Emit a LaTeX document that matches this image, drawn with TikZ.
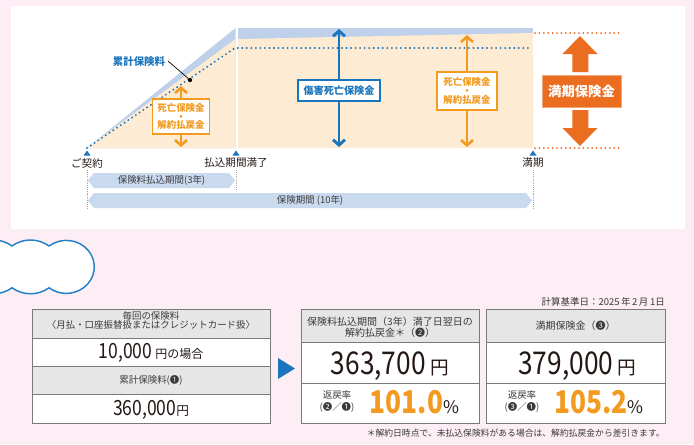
\documentclass[tikz,border=0pt]{standalone}
\usepackage{fontspec}
\setmainfont{Noto Sans CJK JP}
\usetikzlibrary{arrows.meta}
\definecolor{bgpink}{HTML}{FDEEF5}
\definecolor{bandblue}{HTML}{BED0EA}
\definecolor{beige}{HTML}{FDEBD3}
\definecolor{dblue}{HTML}{1B75BC}
\definecolor{cloudblue}{HTML}{2580C8}
\definecolor{orng}{HTML}{F39A20}
\definecolor{dorng}{HTML}{EB6D1F}
\definecolor{perblue}{HTML}{C9D9EE}
\definecolor{hdrgray}{HTML}{E6E6E6}
\definecolor{bordergray}{HTML}{7A7A7A}
\definecolor{txt}{HTML}{231815}
\definecolor{gtxt}{HTML}{3A3A3A}
\newcommand{\tallnum}[1]{\scalebox{0.94}[1.12]{#1}}
\tikzset{
  bdots/.style={dblue, line width=1.6pt, line cap=round, dash pattern=on 0pt off 3.4pt},
  odots/.style={dorng, line width=1.5pt, line cap=round, dash pattern=on 0pt off 3.3pt},
  gdots/.style={gray!70, line width=0.6pt, dash pattern=on 0.8pt off 0.8pt},
  axlbl/.style={inner sep=0, text=txt, font=\fontsize{7.9pt}{8pt}\selectfont},
  pertext/.style={inner sep=0, text=gtxt, font=\fontsize{7.1pt}{8pt}\selectfont},
  barr/.style={dblue, line width=2.2pt, {Straight Barb[length=4pt,width=9pt]}-{Straight Barb[length=4pt,width=9pt]}},
  oarr/.style={orng, line width=1.9pt, {Straight Barb[length=4pt,width=9pt]}-{Straight Barb[length=4pt,width=9pt]}},
  bbox/.style={draw=dblue, line width=0.8pt, fill=white, text=dblue, inner sep=0, font=\fontsize{7.6pt}{8pt}\selectfont\bfseries, minimum width=61.5pt, minimum height=15.75pt},
  obox/.style={draw=orng, line width=0.9pt, fill=white, text=orng, inner sep=0, align=center, font=\fontsize{7.1pt}{6.6pt}\selectfont\bfseries},
  cell/.style={draw=bordergray, line width=0.7pt, anchor=north west, inner sep=0},
  small/.style={inner sep=0, text=gtxt, font=\fontsize{7.1pt}{7pt}\selectfont, align=center},
}
\begin{document}
\begin{tikzpicture}[x=0.75pt,y=-0.75pt]
\useasboundingbox (0,0) rectangle (694,444);
\fill[bgpink] (0,0) rectangle (694,444);
\fill[white] (11,6) rectangle (685,229);

% ---- chart areas
\fill[bandblue] (87,148) -- (235.5,28) -- (235.5,148) -- cycle;
\fill[beige] (87,148) -- (235.5,39) -- (235.5,148) -- cycle;
\fill[bandblue] (238,28) rectangle (533,148);
\fill[beige] (238,39) -- (533,33) -- (533,148) -- (238,148) -- cycle;

% dotted premium line
\coordinate (d0) at (87,148);
\coordinate (d1) at (235,48);
\coordinate (d2) at (531,48);
\draw[bdots] (d0) -- (d1) -- (d2);

% maturity dotted lines
\coordinate (m1a) at (535,33); \coordinate (m1b) at (622,33);
\coordinate (m2a) at (535,148); \coordinate (m2b) at (622,148);
\draw[odots] (m1a) -- (m1b);
\draw[odots] (m2a) -- (m2b);

% 累計保険料 label + leader
\node[inner sep=0, text=dblue, font=\fontsize{7.8pt}{8pt}\selectfont\bfseries] (rk) at (139,62) {累計保険料};
\node[circle, fill=black, inner sep=0, minimum size=3.2pt] (dot) at (190,80) {};
\coordinate (rk1) at (168,61);
\draw[black, line width=0.5pt] (rk1) -- (dot);

% left orange arrow + box
\coordinate (la1) at (181,86); \coordinate (la2) at (181,147);
\draw[oarr] (la1) -- (la2);
\node[obox, minimum width=42.75pt, minimum height=26.25pt] (lb) at (181,116.5) {死亡保険金\\・\\解約払戻金};

% blue arrow + box
\coordinate (ba1) at (339,29); \coordinate (ba2) at (339,147);
\draw[barr] (ba1) -- (ba2);
\node[bbox] (bb) at (339,90.5) {傷害死亡保険金};

% right orange arrow + box
\coordinate (ra1) at (467,35); \coordinate (ra2) at (467,147);
\draw[oarr] (ra1) -- (ra2);
\node[obox, minimum width=45pt, minimum height=28.5pt] (rb) at (467,91) {死亡保険金\\・\\解約払戻金};

% maturity big arrows + box
\fill[dorng] (580,36) -- (597.5,54) -- (588.3,54) -- (588.3,72) -- (572.3,72) -- (572.3,54) -- (562.5,54) -- cycle;
\fill[dorng] (580,146) -- (597.5,128) -- (588.3,128) -- (588.3,110) -- (572.3,110) -- (572.3,128) -- (562.5,128) -- cycle;
\node[fill=dorng, draw=dorng!60, line width=0.4pt, text=white, inner sep=0, minimum width=59.25pt, minimum height=24pt, font=\fontsize{10pt}{10pt}\selectfont\bfseries] (mb) at (581.5,91) {満期保険金};

% axis markers
\fill[dblue] (83.5,155.5) -- (90.5,155.5) -- (87,150.5) -- cycle;
\fill[dblue] (232.5,155.5) -- (239.5,155.5) -- (236,150.5) -- cycle;
\fill[dblue] (529.5,155.5) -- (536.5,155.5) -- (533,150.5) -- cycle;
\node[axlbl] (t0) at (87,163) {ご契約};
\node[axlbl] (t1) at (236,163) {払込期間満了};
\node[axlbl] (t2) at (533,163) {満期};
\coordinate (g0a) at (87,170); \coordinate (g0b) at (87,209);
\coordinate (g1a) at (236,170); \coordinate (g1b) at (236,190);
\coordinate (g2a) at (533,170); \coordinate (g2b) at (533,209);
\draw[gdots] (g0a) -- (g0b);
\draw[gdots] (g1a) -- (g1b);
\draw[gdots] (g2a) -- (g2b);

% period bands
\fill[perblue] (88,180.5) -- (94,173) -- (229,173) -- (235,180.5) -- (229,188) -- (94,188) -- cycle;
\node[pertext] (p1) at (161.5,180.5) {保険料払込期間(3年)};
\fill[perblue] (88,200.5) -- (94,193) -- (526,193) -- (532,200.5) -- (526,208) -- (94,208) -- cycle;
\node[pertext] (p2) at (310,200.5) {保険期間 (10年)};

% ---- cloud
\begin{scope}
\clip (0,0) rectangle (694,444);
\draw[cloudblue, line width=1.1pt, fill=white] (-25,246)
  arc[start angle=-126, end angle=-54, radius=31.5]
  arc[start angle=-126, end angle=-54, radius=31.5]
  arc[start angle=-128, end angle=128, x radius=28, y radius=26.5]
  arc[start angle=54, end angle=126, radius=31.5]
  arc[start angle=54, end angle=126, radius=31.5]
  -- cycle;
\end{scope}

% ---- left table
\node[cell, fill=hdrgray, minimum width=178.5pt, minimum height=21.75pt] (c1) at (32,309) {};
\node[cell, fill=white, minimum width=178.5pt, minimum height=21pt] (c2) at (32,338) {};
\node[cell, fill=hdrgray, minimum width=178.5pt, minimum height=21pt] (c3) at (32,366) {};
\node[cell, fill=white, minimum width=178.5pt, minimum height=21.75pt] (c4) at (32,394) {};
\node[small] (c1t) at (151,320.5) {毎回の保険料\\〈月払・口座振替扱またはクレジットカード扱〉};
\node[inner sep=0, anchor=base, text=txt] (c2t) at (151,358) {\fontsize{14pt}{14pt}\selectfont\tallnum{10,000}\,\fontsize{9pt}{9pt}\selectfont 円の場合};
\node[small] (c3t) at (151,380) {累計保険料(❶)};
\node[inner sep=0, anchor=base, text=txt] (c4t) at (151,415) {\fontsize{14pt}{14pt}\selectfont\tallnum{360,000}\fontsize{9.5pt}{9.5pt}\selectfont 円};

% arrow triangle
\fill[dblue] (278,358) -- (295,368.5) -- (278,379) -- cycle;

% ---- right boxes
\node[inner sep=0, anchor=east, text=gtxt, font=\fontsize{7.1pt}{7pt}\selectfont] (calc) at (665,302) {計算基準日：2025\,年\,2\,月\,1日};

\node[cell, fill=hdrgray, minimum width=133.5pt, minimum height=24.75pt] (a1) at (301,309) {};
\node[cell, fill=white, minimum width=133.5pt, minimum height=30.75pt] (a2) at (301,342) {};
\node[cell, fill=white, minimum width=133.5pt, minimum height=30pt] (a3) at (301,383) {};
\node[inner sep=0, text=gtxt, align=center, font=\fontsize{7.5pt}{8.25pt}\selectfont] (a1t) at (390,327.5) {保険料払込期間（3年）満了日翌日の\\解約払戻金＊（❷）};
\node[inner sep=0, anchor=base, text=txt] (a2t) at (390,374) {\fontsize{21pt}{21pt}\selectfont\tallnum{363,700}\,\fontsize{14pt}{14pt}\selectfont 円};
\node[small] (a3l) at (337,401.5) {返戻率\\[2.5pt](❷／❶)};
\node[inner sep=0, anchor=base] (a3p) at (414.5,413) {\fontsize{21pt}{21pt}\selectfont\bfseries\color{orng}\tallnum{101.0}\mdseries\fontsize{13pt}{13pt}\selectfont\color{txt}\%};

\node[cell, fill=hdrgray, minimum width=134.25pt, minimum height=24.75pt] (b1) at (486,309) {};
\node[cell, fill=white, minimum width=134.25pt, minimum height=30.75pt] (b2) at (486,342) {};
\node[cell, fill=white, minimum width=134.25pt, minimum height=30pt] (b3) at (486,383) {};
\node[inner sep=0, text=gtxt, font=\fontsize{7.5pt}{8.25pt}\selectfont] (b1t) at (575.5,326) {満期保険金（❸）};
\node[inner sep=0, anchor=base, text=txt] (b2t) at (577.5,374) {\fontsize{21pt}{21pt}\selectfont\tallnum{379,000}\,\fontsize{14pt}{14pt}\selectfont 円};
\node[small] (b3l) at (522,401.5) {返戻率\\[2.5pt](❸／❶)};
\node[inner sep=0, anchor=base] (b3p) at (599,413) {\fontsize{21pt}{21pt}\selectfont\bfseries\color{orng}\tallnum{105.2}\mdseries\fontsize{13pt}{13pt}\selectfont\color{txt}\%};

\node[inner sep=0, anchor=east, text=gtxt, font=\fontsize{6.6pt}{7pt}\selectfont] (fn) at (665,433) {＊解約日時点で、未払込保険料がある場合は、解約払戻金から差引きます。};
\end{tikzpicture}
\end{document}
